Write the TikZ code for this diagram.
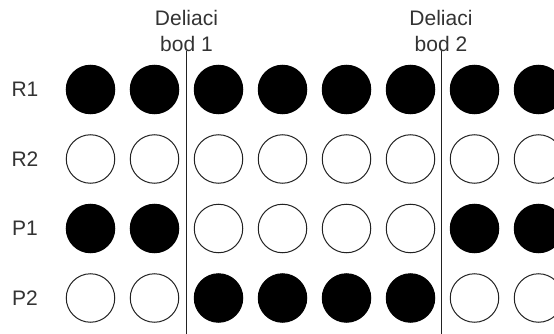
\documentclass[tikz,border=0pt]{standalone}
\usepackage{fontspec}
\setmainfont{Liberation Sans}
\definecolor{txt}{HTML}{333333}
\definecolor{edge}{HTML}{222222}
\begin{document}
\begin{tikzpicture}[x=1pt,y=-1pt,
  ball/.style={circle,draw=edge,line width=1pt,minimum size=48.5pt,inner sep=0pt},
  full/.style={ball,fill=black,draw=black},
  empty/.style={ball,fill=white},
  lbl/.style={text=txt,font=\fontsize{21}{25.5}\selectfont,inner sep=0pt},
  cut/.style={draw=edge,line width=1pt}]
\useasboundingbox[fill=white] (0,0) rectangle (554,334);
% row labels
\node[lbl] (lR1) at (25,89.5) {R1};
\node[lbl] (lR2) at (25,159) {R2};
\node[lbl] (lP1) at (25,228.5) {P1};
\node[lbl] (lP2) at (25,298) {P2};
% circles
\foreach \i/\s in {1/full,2/full,3/full,4/full,5/full,6/full,7/full,8/full}
  \node[\s] (r1c\i) at ({90.5+64*(\i-1)},89.5) {};
\foreach \i/\s in {1/empty,2/empty,3/empty,4/empty,5/empty,6/empty,7/empty,8/empty}
  \node[\s] (r2c\i) at ({90.5+64*(\i-1)},159) {};
\foreach \i/\s in {1/full,2/full,3/empty,4/empty,5/empty,6/empty,7/full,8/full}
  \node[\s] (p1c\i) at ({90.5+64*(\i-1)},228.5) {};
\foreach \i/\s in {1/empty,2/empty,3/full,4/full,5/full,6/full,7/empty,8/empty}
  \node[\s] (p2c\i) at ({90.5+64*(\i-1)},298) {};
% cut points
\node[lbl,align=center,anchor=north] (d1) at (186.5,10.5) {Deliaci\\bod 1};
\node[lbl,align=center,anchor=north] (d2) at (441,10.5) {Deliaci\\bod 2};
\coordinate (t1) at (186.5,51);
\coordinate (b1) at (186.5,334);
\coordinate (t2) at (441,51);
\coordinate (b2) at (441,334);
\draw[cut] (t1) -- (b1);
\draw[cut] (t2) -- (b2);
\end{tikzpicture}
\end{document}
